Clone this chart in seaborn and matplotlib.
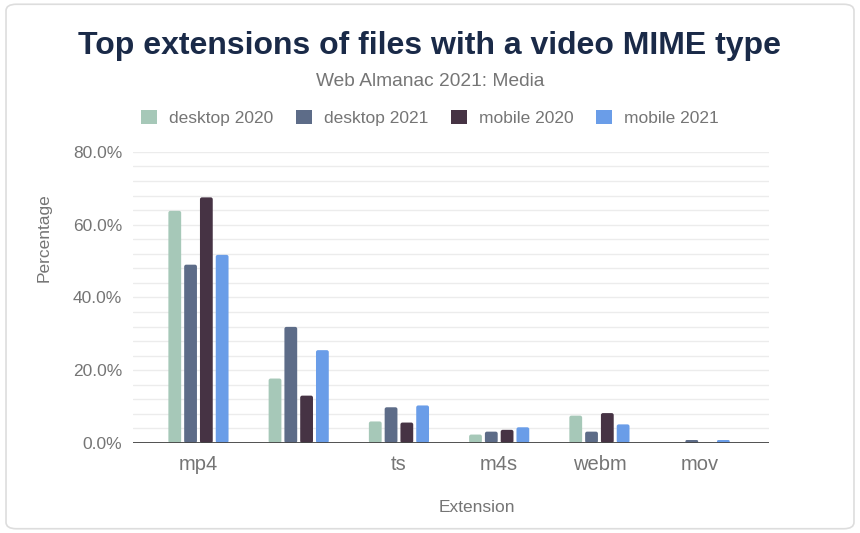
import numpy as np
import pandas as pd
import matplotlib
matplotlib.use("Agg")
import matplotlib.pyplot as plt
from matplotlib.patches import FancyBboxPatch, Patch
import seaborn as sns

## data (percent)
extensions = ["mp4", "", "ts", "m4s", "webm", "mov"]
series = ["desktop 2020", "desktop 2021", "mobile 2020", "mobile 2021"]
desktop_2020 = [63.8, 17.7, 5.9, 2.3, 7.5, 0.0]
desktop_2021 = [49.0, 31.9, 9.8, 3.1, 3.1, 0.8]
mobile_2020 = [67.5, 13.0, 5.6, 3.6, 8.2, 0.0]
mobile_2021 = [51.7, 25.5, 10.3, 4.3, 5.1, 0.8]
colors = ["#a6c8b8", "#5d6c88", "#463344", "#6a9de8"]

rows = []
for name, vals in zip(series, [desktop_2020, desktop_2021, mobile_2020, mobile_2021]):
    for ext, v in zip(extensions, vals):
        rows.append({"ext": ext, "series": name, "pct": v})
df = pd.DataFrame(rows)

sns.set_theme(style="white")
plt.rcParams['font.family'] = ['Liberation Sans', 'DejaVu Sans']

fig = plt.figure(figsize=(8.6, 5.33), dpi=100)
ax = fig.add_axes([0.155, 0.169, 0.739, 0.546])

sns.barplot(data=df, x="ext", y="pct", hue="series", order=extensions,
            hue_order=series, palette=colors, width=0.63, gap=0.19,
            saturation=1, ax=ax, legend=False, errorbar=None)

# rounded bar corners
sx = 0.02
aspect = (80 / 291) / (6.34 / 636)
for p in list(ax.patches):
    x, y = p.get_x(), p.get_y()
    w, h = p.get_width(), p.get_height()
    if h <= 0:
        p.remove()
        continue
    r = min(sx, h / aspect / 2, w / 2)
    fb = FancyBboxPatch((x, y), w, h, boxstyle=f"round,pad=0,rounding_size={r}",
                        mutation_aspect=aspect, fc=p.get_facecolor(), ec="none", zorder=3)
    p.remove()
    ax.add_patch(fb)

ax.set_xlim(-0.65, 5.69)
ax.set_ylim(0, 80)
ax.set_yticks(np.arange(0, 81, 20))
ax.set_yticks(np.arange(0, 81, 4), minor=True)
ax.set_yticklabels([f"{v:.1f}%" for v in np.arange(0, 81, 20)])
ax.grid(axis="y", which="both", color="#ececec", lw=1, zorder=0)
ax.set_axisbelow(True)
for s in ax.spines.values():
    s.set_visible(False)
ax.axhline(0, color="#444444", lw=1.3, zorder=4)
ax.tick_params(axis="both", which="both", length=0, colors="#757575")
ax.tick_params(axis="y", pad=8, labelsize=12.5)
ax.tick_params(axis="x", pad=9, labelsize=14.5)
ax.set_xticks(range(len(extensions)))
ax.set_xticklabels(extensions)

ax.set_xlabel("Extension", color="#757575", fontsize=12.5)
ax.set_ylabel("Percentage", color="#757575", fontsize=12.5)
ax.xaxis.set_label_coords(0.54, -0.196)
ax.yaxis.set_label_coords(-0.128, 0.705)

fig.text(0.5, 0.913, "Top extensions of files with a video MIME type", ha="center", va="center",
         fontsize=23, fontweight="bold", color="#1a2a48")
fig.text(0.5, 0.848, "Web Almanac 2021: Media", ha="center", va="center",
         fontsize=13.8, color="#757575")

handles = [Patch(facecolor=c, edgecolor="none", label=s) for c, s in zip(colors, series)]
leg = fig.legend(handles=handles, loc="center", bbox_to_anchor=(0.5, 0.779), ncol=4,
                 frameon=False, fontsize=12.5, handlelength=0.92, handleheight=0.92,
                 handletextpad=0.7, columnspacing=1.3)
for t in leg.get_texts():
    t.set_color("#757575")

# card border
card = FancyBboxPatch((0.007, 0.008), 0.986, 0.984, boxstyle="round,pad=0,rounding_size=0.012",
                      transform=fig.transFigure, fc="none", ec="#dddddd", lw=1.2)
fig.patches.append(card)

fig.savefig("out.png", dpi=100)
